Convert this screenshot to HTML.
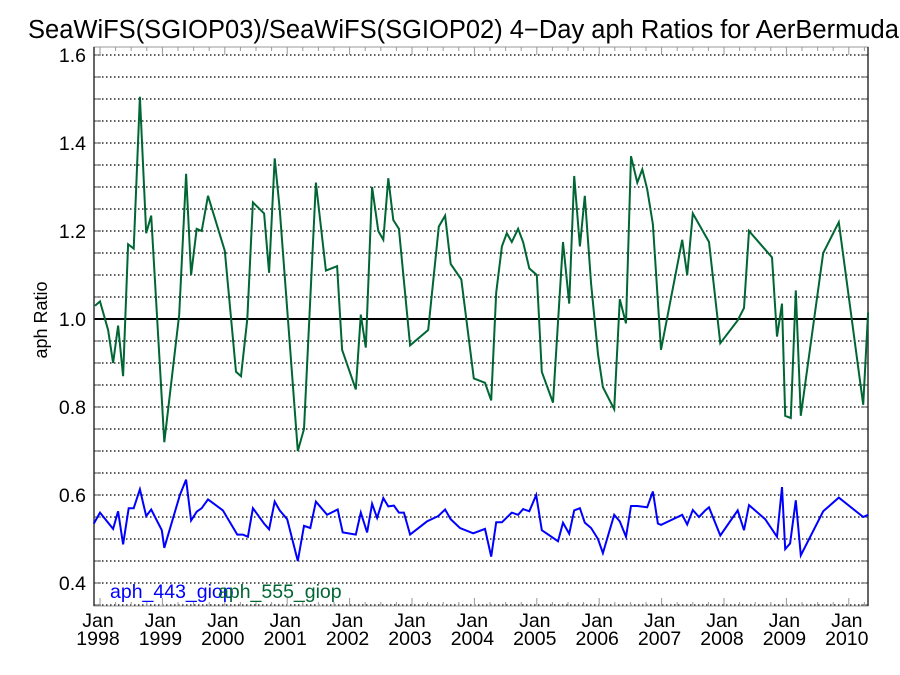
<!DOCTYPE html>
<html><head><meta charset="utf-8"><style>
body{margin:0;background:#fff}
svg{display:block;font-family:"Liberation Sans",sans-serif}
</style></head><body>
<svg id="chart" width="900" height="675">
<text x="28" y="38" font-size="25.5">SeaWiFS(SGIOP03)/SeaWiFS(SGIOP02) 4−Day aph Ratios for AerBermuda</text>
<text transform="translate(47,320) rotate(-90)" text-anchor="middle" font-size="18">aph Ratio</text>
<g id="grid"></g><g id="axes"></g><g id="series"></g>
<text x="110" y="598" font-size="19.5" fill="#0000ff">aph_443_giop</text>
<text x="218" y="598" font-size="19.5" fill="#006633">aph_555_giop</text>
</svg>
<script>
const yTicks=[0.4,0.6,0.8,1.0,1.2,1.4,1.6];
const xYears=[1998,1999,2000,2001,2002,2003,2004,2005,2006,2007,2008,2009,2010];
const greenDates=[1997.92,1998.0,1998.13,1998.21,1998.29,1998.37,1998.45,1998.54,1998.64,1998.74,1998.82,1999.03,1999.27,1999.38,1999.46,1999.55,1999.63,1999.73,2000.0,2000.18,2000.26,2000.36,2000.45,2000.63,2000.71,2000.8,2000.88,2001.17,2001.27,2001.46,2001.62,2001.8,2001.88,2002.1,2002.18,2002.26,2002.36,2002.46,2002.54,2002.62,2002.7,2002.79,2002.97,2003.26,2003.43,2003.53,2003.62,2003.79,2003.99,2004.17,2004.27,2004.35,2004.44,2004.52,2004.6,2004.7,2004.78,2004.88,2005.0,2005.08,2005.26,2005.42,2005.52,2005.6,2005.69,2005.77,2005.87,2005.98,2006.06,2006.24,2006.33,2006.43,2006.51,2006.61,2006.69,2006.77,2006.86,2006.99,2007.33,2007.41,2007.5,2007.62,2007.76,2007.94,2008.22,2008.32,2008.4,2008.77,2008.85,2008.93,2008.98,2009.07,2009.15,2009.23,2009.59,2009.84,2010.23,2010.31];
const greenValues=[1.03,1.04,0.975,0.9,0.985,0.87,1.17,1.16,1.505,1.195,1.235,0.72,1.01,1.33,1.10,1.205,1.2,1.28,1.155,0.88,0.87,1.0,1.265,1.24,1.105,1.365,1.25,0.70,0.75,1.31,1.11,1.12,0.93,0.84,1.01,0.935,1.30,1.2,1.18,1.32,1.225,1.205,0.94,0.975,1.21,1.235,1.125,1.09,0.865,0.855,0.815,1.06,1.165,1.195,1.175,1.205,1.175,1.115,1.1,0.88,0.81,1.175,1.035,1.325,1.165,1.28,1.08,0.92,0.845,0.795,1.045,0.99,1.37,1.31,1.34,1.295,1.215,0.93,1.18,1.10,1.24,1.21,1.175,0.945,0.997,1.025,1.2,1.14,0.96,1.035,0.78,0.775,1.065,0.78,1.15,1.22,0.805,1.015];
const blueDates=[1997.9,1998.0,1998.21,1998.29,1998.37,1998.46,1998.54,1998.64,1998.74,1998.82,1998.99,1999.03,1999.28,1999.38,1999.46,1999.55,1999.63,1999.73,1999.97,2000.2,2000.29,2000.37,2000.45,2000.63,2000.71,2000.8,2000.88,2001.0,2001.17,2001.27,2001.37,2001.46,2001.64,2001.81,2001.89,2002.1,2002.18,2002.28,2002.36,2002.44,2002.54,2002.62,2002.71,2002.79,2002.87,2002.97,2003.24,2003.42,2003.53,2003.62,2003.77,2003.98,2004.17,2004.27,2004.35,2004.44,2004.6,2004.7,2004.78,2004.88,2004.99,2005.08,2005.34,2005.42,2005.52,2005.6,2005.69,2005.77,2005.87,2005.98,2006.06,2006.24,2006.33,2006.43,2006.51,2006.61,2006.77,2006.86,2006.94,2006.99,2007.33,2007.41,2007.5,2007.6,2007.7,2007.76,2007.94,2008.22,2008.32,2008.4,2008.66,2008.85,2008.93,2008.98,2009.06,2009.15,2009.23,2009.59,2009.84,2010.23,2010.31];
const blueValues=[0.535,0.56,0.523,0.563,0.488,0.57,0.57,0.613,0.552,0.567,0.52,0.48,0.6,0.635,0.542,0.562,0.57,0.59,0.565,0.51,0.51,0.505,0.57,0.535,0.522,0.585,0.565,0.545,0.45,0.53,0.525,0.585,0.555,0.567,0.515,0.51,0.56,0.515,0.58,0.548,0.593,0.574,0.576,0.56,0.56,0.51,0.54,0.552,0.567,0.545,0.525,0.513,0.523,0.46,0.538,0.538,0.56,0.555,0.568,0.563,0.6,0.52,0.495,0.537,0.512,0.565,0.57,0.537,0.525,0.5,0.468,0.555,0.54,0.505,0.575,0.575,0.572,0.608,0.535,0.532,0.555,0.533,0.566,0.55,0.565,0.572,0.508,0.565,0.52,0.577,0.545,0.505,0.618,0.477,0.49,0.588,0.463,0.563,0.594,0.55,0.555];
const L=94,R=868,T=47,B=606;
const xs=yr=>100+(yr-1998)*62.4;
const ys=v=>319-(v-1)*440;
const NS="http://www.w3.org/2000/svg";
function mk(tag,attrs,parent){const e=document.createElementNS(NS,tag);for(const k in attrs)e.setAttribute(k,attrs[k]);parent.appendChild(e);return e;}
const grid=document.getElementById('grid'),axes=document.getElementById('axes'),series=document.getElementById('series');
for(let i=0;i<=25;i++){const v=0.35+i*0.05;const y=ys(v);
 if(Math.abs(v-1)<1e-6)continue;
 const g=mk('line',{x1:L,x2:R,y1:y,y2:y,stroke:'#000','stroke-width':1.3,'stroke-dasharray':'1.5,2.5'},grid);
 
 
 mk('line',{x1:L,x2:L+7,y1:y,y2:y,stroke:'#555'},axes);
 mk('line',{x1:R-7,x2:R,y1:y,y2:y,stroke:'#555'},axes);}
const ref=mk('line',{x1:L,x2:R,y1:ys(1),y2:ys(1),stroke:'#000','stroke-width':2},grid);


const frame=mk('rect',{x:L,y:T,width:R-L,height:B-T,fill:'none',stroke:'#999','stroke-width':1},axes);


mk('line',{x1:L,x2:L,y1:T,y2:B,stroke:'#333','stroke-width':1.5},axes);
mk('line',{x1:R,x2:R,y1:T,y2:B,stroke:'#333','stroke-width':1.5},axes);
for(let q=1997.75;q<=2010.3;q+=0.25){const x=xs(q);if(x<L||x>R)continue;const maj=Math.abs(q-Math.round(q))<1e-6;const len=maj?8:4;
 mk('line',{x1:x,x2:x,y1:B,y2:B-len,stroke:'#999'},axes);mk('line',{x1:x,x2:x,y1:T,y2:T+len,stroke:'#999'},axes);}
yTicks.forEach(v=>{const t=mk('text',{x:86,y:ys(v)+7,'text-anchor':'end','font-size':19.5},axes);t.textContent=v.toFixed(1);
 
 });
xYears.forEach(yr=>{const x=xs(yr)-2;
 const t=mk('text',{x:x,y:627,'text-anchor':'middle','font-size':19.5},axes);t.textContent='Jan';
 
 
 const t2=mk('text',{x:x,y:645,'text-anchor':'middle','font-size':19.5},axes);t2.textContent=String(yr);
 
 });
function line(d,v,color,name){const p=d.map((t,i)=>xs(t).toFixed(1)+','+ys(v[i]).toFixed(1)).join(' ');
 const e=mk('polyline',{points:p,fill:'none',stroke:color,'stroke-width':2,'stroke-linejoin':'miter'},series);
 
 }
line(greenDates,greenValues,'#006633','series-aph-555');
line(blueDates,blueValues,'#0000ff','series-aph-443');
</script>
</body></html>
